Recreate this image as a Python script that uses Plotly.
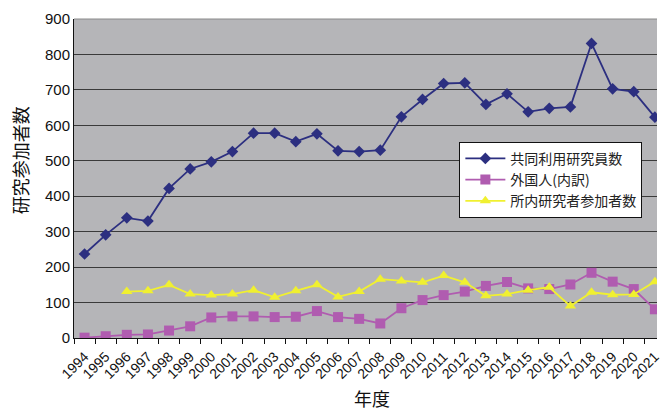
import plotly.graph_objects as go

years = [str(y) for y in range(1994, 2022)]

# 共同利用研究員数
joint_researchers = [237, 291, 339, 330, 422, 477, 497, 526, 578, 578, 554, 576, 528,
                     526, 530, 624, 673, 718, 720, 659, 689, 638, 648, 652, 831, 703, 695, 623]
# 外国人（内訳）
foreign = [1, 5, 9, 10, 21, 33, 58, 61, 61, 59, 60, 76, 59,
           54, 41, 84, 107, 121, 131, 147, 158, 140, 138, 151, 184, 159, 138, 81]
# 所内研究者参加者数 (from 1996)
internal_years = years[2:]
internal = [131, 133, 150, 124, 121, 124, 135, 115, 133, 150, 116,
            131, 166, 161, 157, 176, 157, 119, 124, 135, 143, 90, 129, 122, 123, 159]

y_ticks = [0, 100, 200, 300, 400, 500, 600, 700, 800, 900]

fig = go.Figure()
fig.add_trace(go.Scatter(
    x=years, y=joint_researchers, name="共同利用研究員数", mode="lines+markers",
    line=dict(color="#2c2f80", width=1.8),
    marker=dict(symbol="diamond", size=9, color="#2c2f80")))
fig.add_trace(go.Scatter(
    x=years, y=foreign, name="外国人(内訳)", mode="lines+markers",
    line=dict(color="#b05cb0", width=1.8),
    marker=dict(symbol="square", size=10, color="#b05cb0")))
fig.add_trace(go.Scatter(
    x=internal_years, y=internal, name="所内研究者参加者数", mode="lines+markers",
    line=dict(color="#f0f030", width=1.8),
    marker=dict(symbol="triangle-up", size=10, color="#f0f030")))

font_family = "Liberation Sans, Arial, Noto Sans CJK JP, sans-serif"
cjk_family = "Noto Sans CJK JP, sans-serif"

fig.update_layout(
    width=662, height=414,
    margin=dict(l=74, r=0, t=19, b=76),
    paper_bgcolor="white",
    plot_bgcolor="#b5b5b8",
    font=dict(family=font_family, color="#111111"),
    showlegend=True,
    legend=dict(
        x=0.661, y=0.615, xanchor="left", yanchor="top",
        bgcolor="white", bordercolor="#111111", borderwidth=1,
        font=dict(size=14, family=cjk_family, color="#222222"),
        tracegroupgap=0, itemwidth=40,
    ),
    xaxis=dict(
        type="category", range=[-0.5, 27.1],
        tickson="boundaries", ticks="outside", ticklen=5, tickcolor="#111111",
        showgrid=False, showline=True, linecolor="#111111", linewidth=1,
        tickangle=-45, ticklabelstandoff=4,
        tickfont=dict(size=14, color="#111111"),
    ),
    yaxis=dict(
        range=[0, 900], tickvals=y_ticks, ticks="",
        showgrid=True, gridcolor="#3a3a3a", gridwidth=1,
        showline=True, linecolor="#111111", linewidth=1,
        tickfont=dict(size=15, color="#111111"), zeroline=False,
    ),
    shapes=[
        dict(type="line", xref="paper", yref="paper", x0=0, x1=1, y0=1, y1=1,
             line=dict(color="#8a8a8a", width=1)),
    ],
    annotations=[
        dict(text="研究参加者数", xref="paper", yref="paper", x=-0.092, y=0.558,
             xanchor="center", yanchor="middle", showarrow=False, textangle=-90,
             font=dict(size=18, family=cjk_family, color="#111111")),
        dict(text="年度", xref="paper", yref="paper", x=0.512, y=-0.188,
             xanchor="center", yanchor="middle", showarrow=False,
             font=dict(size=18, family=cjk_family, color="#111111")),
    ],
)

fig.write_html("out.html")
